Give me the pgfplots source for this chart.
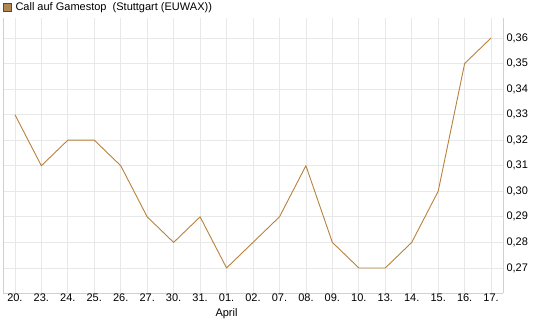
\documentclass[border=0pt]{standalone}
\usepackage{pgfplots}
\pgfplotsset{compat=1.18}
\usepackage{fontspec}
\setmainfont{Liberation Sans}
\definecolor{linec}{RGB}{184,130,60}
\definecolor{legfill}{RGB}{176,136,84}
\definecolor{gridc}{RGB}{232,232,232}
\definecolor{axc}{RGB}{208,208,208}
\begin{document}
\begin{tikzpicture}[x=1pt,y=1pt]
\path[use as bounding box] (0,0) rectangle (545,327);
\begin{axis}[
  at={(3pt,34pt)}, anchor=south west,
  scale only axis, width=500pt, height=275pt,
  xmin=-0.45, xmax=18.45, ymin=0.2602, ymax=0.3678,
  xtick={0,...,18},
  xticklabels={20.,23.,24.,25.,26.,27.,30.,31.,{01.\\April},02.,07.,08.,09.,10.,13.,14.,15.,16.,17.},
  xticklabel style={align=center, font=\fontsize{11}{15}\selectfont, inner sep=1pt},
  ytick={0.27,0.28,0.29,0.30,0.31,0.32,0.33,0.34,0.35,0.36},
  yticklabel pos=right,
  yticklabel style={font=\fontsize{11}{13}\selectfont, /pgf/number format/.cd, fixed, fixed zerofill, precision=2, use comma, assume math mode=true},
  major tick length=0pt,
  grid=major,
  major grid style={draw=gridc, line width=0.8pt},
  axis line style={draw=axc, line width=1pt},
  axis x line*=bottom,
  axis y line*=right,
  separate axis lines,
  legend style={at={(0,1)}, anchor=south west, draw=none, fill=none, inner sep=0pt, outer sep=0pt, xshift=0pt, yshift=4pt, font=\fontsize{11}{13}\selectfont, legend cell align=left},
  legend image code/.code={\draw[fill=legfill, draw=black!70, line width=0.5pt] (0pt,-4pt) rectangle (8pt,4pt);},
]
\addplot[color=linec, line width=0.9pt, mark=none] coordinates {
(0,0.33) (1,0.31) (2,0.32) (3,0.32) (4,0.31) (5,0.29) (6,0.28) (7,0.29) (8,0.27) (9,0.28)
(10,0.29) (11,0.31) (12,0.28) (13,0.27) (14,0.27) (15,0.28) (16,0.30) (17,0.35) (18,0.36)};
\addlegendentry{\hspace{2pt}Call auf Gamestop\ \ (Stuttgart (EUWAX))}
\draw[axc, line width=1pt] (rel axis cs:0,0) -- (rel axis cs:0,1);
\end{axis}
\end{tikzpicture}
\end{document}
